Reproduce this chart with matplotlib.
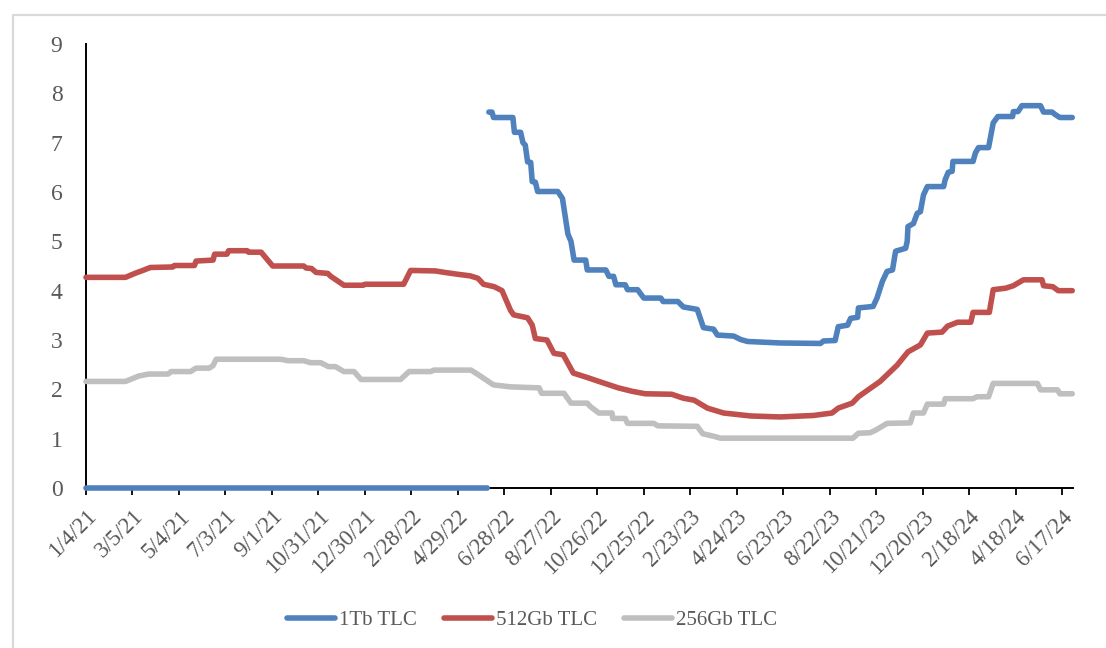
import matplotlib
matplotlib.use("Agg")
import matplotlib.pyplot as plt
from matplotlib.lines import Line2D
import numpy as np
import pandas as pd

# ---- data: NAND flash contract prices (USD) ----
tb1_dates = [
    "2021-01-04", "2022-06-06", "2022-06-07",
    "2022-06-08", "2022-06-12", "2022-06-14", "2022-07-09", "2022-07-11", "2022-07-19",
    "2022-07-22", "2022-07-25", "2022-07-28", "2022-08-01", "2022-08-03", "2022-08-07",
    "2022-08-10", "2022-09-05", "2022-09-11", "2022-09-18", "2022-09-22", "2022-09-26",
    "2022-10-11", "2022-10-13", "2022-11-06", "2022-11-10", "2022-11-16", "2022-11-19",
    "2022-12-01", "2022-12-04", "2022-12-17", "2022-12-25", "2023-01-16", "2023-01-19",
    "2023-02-07", "2023-02-14", "2023-03-04", "2023-03-12", "2023-03-25", "2023-03-30",
    "2023-04-20", "2023-04-29", "2023-05-08", "2023-06-19", "2023-08-10", "2023-08-14",
    "2023-08-29", "2023-09-02", "2023-09-14", "2023-09-18", "2023-09-27", "2023-09-28",
    "2023-10-17", "2023-10-22", "2023-10-29", "2023-11-04", "2023-11-11", "2023-11-15",
    "2023-11-28", "2023-11-30", "2023-12-01", "2023-12-08", "2023-12-13", "2023-12-17",
    "2023-12-21", "2023-12-26", "2024-01-16", "2024-01-18", "2024-01-22", "2024-01-27",
    "2024-01-28", "2024-02-23", "2024-02-26", "2024-03-01", "2024-03-14", "2024-03-20",
    "2024-03-26", "2024-04-14", "2024-04-15", "2024-04-21", "2024-04-26", "2024-05-20",
    "2024-05-24", "2024-06-04", "2024-06-08", "2024-06-14", "2024-06-30",
]
tb1_values = [
    0.0, 0.0, np.nan,
    7.62, 7.62, 7.51, 7.51, 7.21, 7.21,
    7.00, 6.95, 6.61, 6.60, 6.21, 6.20,
    6.01, 6.01, 5.87, 5.15, 5.00, 4.62,
    4.62, 4.42, 4.42, 4.29, 4.29, 4.12,
    4.12, 4.02, 4.02, 3.85, 3.85, 3.78,
    3.78, 3.67, 3.62, 3.25, 3.22, 3.10,
    3.08, 3.01, 2.97, 2.94, 2.93, 2.98,
    2.99, 3.27, 3.30, 3.44, 3.46, 3.65,
    3.68, 3.85, 4.19, 4.39, 4.42, 4.80,
    4.86, 5.00, 5.30, 5.36, 5.57, 5.60,
    5.94, 6.11, 6.11, 6.25, 6.40, 6.42,
    6.62, 6.62, 6.79, 6.90, 6.90, 7.40,
    7.53, 7.53, 7.63, 7.63, 7.75, 7.75,
    7.62, 7.62, 7.57, 7.51, 7.51,
]

gb512_dates = [
    "2021-01-04", "2021-02-24", "2021-03-08", "2021-03-20", "2021-03-28", "2021-04-26",
    "2021-04-28", "2021-05-24", "2021-05-26", "2021-06-17", "2021-06-19", "2021-07-05",
    "2021-07-07", "2021-07-31", "2021-08-02", "2021-08-18", "2021-09-02", "2021-10-12",
    "2021-10-15", "2021-10-22", "2021-10-28", "2021-11-12", "2021-11-16", "2021-12-03",
    "2021-12-28", "2021-12-30", "2022-02-18", "2022-02-27", "2022-03-31", "2022-04-12",
    "2022-04-30", "2022-05-15", "2022-05-25", "2022-06-01", "2022-06-15", "2022-06-25",
    "2022-07-06", "2022-07-10", "2022-07-28", "2022-08-03", "2022-08-07", "2022-08-22",
    "2022-08-31", "2022-09-12", "2022-09-25", "2022-10-13", "2022-10-28", "2022-11-22",
    "2022-12-10", "2022-12-27", "2023-01-30", "2023-02-14", "2023-02-28", "2023-03-17",
    "2023-04-07", "2023-05-12", "2023-06-19", "2023-08-01", "2023-08-25", "2023-09-02",
    "2023-09-20", "2023-09-28", "2023-10-26", "2023-11-17", "2023-12-01", "2023-12-17",
    "2023-12-26", "2024-01-14", "2024-01-21", "2024-02-03", "2024-02-20", "2024-02-23",
    "2024-03-15", "2024-03-20", "2024-04-05", "2024-04-15", "2024-04-28", "2024-05-22",
    "2024-05-24", "2024-06-05", "2024-06-12", "2024-06-30",
]
gb512_values = [
    4.27, 4.27, 4.35, 4.42, 4.47, 4.48,
    4.51, 4.51, 4.60, 4.62, 4.74, 4.74,
    4.81, 4.81, 4.78, 4.78, 4.50, 4.50,
    4.46, 4.45, 4.37, 4.35, 4.29, 4.11,
    4.11, 4.13, 4.13, 4.41, 4.40, 4.37,
    4.33, 4.30, 4.25, 4.13, 4.08, 4.00,
    3.60, 3.51, 3.45, 3.30, 3.03, 3.00,
    2.73, 2.70, 2.33, 2.24, 2.16, 2.03,
    1.96, 1.91, 1.90, 1.82, 1.78, 1.62,
    1.52, 1.46, 1.44, 1.47, 1.52, 1.62,
    1.72, 1.85, 2.16, 2.49, 2.76, 2.90,
    3.14, 3.16, 3.28, 3.36, 3.36, 3.56,
    3.56, 4.02, 4.05, 4.10, 4.22, 4.22,
    4.10, 4.08, 4.00, 4.00,
]

gb256_dates = [
    "2021-01-04", "2021-02-24", "2021-03-13", "2021-03-26", "2021-04-20", "2021-04-24",
    "2021-05-19", "2021-05-26", "2021-06-12", "2021-06-17", "2021-06-21", "2021-09-12",
    "2021-09-22", "2021-10-12", "2021-10-21", "2021-11-03", "2021-11-13", "2021-11-22",
    "2021-12-03", "2021-12-16", "2021-12-25", "2022-02-14", "2022-02-25", "2022-03-25",
    "2022-03-29", "2022-05-16", "2022-05-25", "2022-06-14", "2022-07-06", "2022-08-12",
    "2022-08-15", "2022-09-13", "2022-09-22", "2022-10-13", "2022-10-17", "2022-10-28",
    "2022-11-14", "2022-11-15", "2022-12-01", "2022-12-04", "2023-01-07", "2023-01-12",
    "2023-03-04", "2023-03-11", "2023-03-25", "2023-04-03", "2023-09-21", "2023-09-28",
    "2023-10-13", "2023-10-20", "2023-11-04", "2023-12-04", "2023-12-08", "2023-12-21",
    "2023-12-26", "2024-01-16", "2024-01-18", "2024-02-23", "2024-02-28", "2024-03-14",
    "2024-03-20", "2024-05-16", "2024-05-20", "2024-06-11", "2024-06-14", "2024-06-30",
]
gb256_values = [
    2.16, 2.16, 2.27, 2.31, 2.31, 2.36,
    2.36, 2.43, 2.43, 2.48, 2.61, 2.61,
    2.58, 2.58, 2.54, 2.54, 2.46, 2.46,
    2.36, 2.36, 2.20, 2.20, 2.36, 2.36,
    2.39, 2.39, 2.30, 2.09, 2.05, 2.03,
    1.92, 1.92, 1.72, 1.72, 1.65, 1.52,
    1.52, 1.41, 1.41, 1.31, 1.31, 1.26,
    1.25, 1.10, 1.05, 1.01, 1.01, 1.11,
    1.12, 1.17, 1.31, 1.32, 1.52, 1.52,
    1.70, 1.70, 1.81, 1.81, 1.85, 1.85,
    2.12, 2.12, 1.99, 1.99, 1.91, 1.91,
]

series_names = ["1Tb TLC", "512Gb TLC", "256Gb TLC"]
series_colors = ["#4F81BD", "#C0504D", "#BFBFBF"]

axis_start = "2021-01-04"
axis_end = "2024-07-01"
tick_step_days = 60
y_ticks = list(range(0, 10))

# ---- figure ----
TEXT = "#595959"
FONT = ["Liberation Serif", "DejaVu Serif"]
plt.rcParams["font.family"] = FONT

fig = plt.figure(figsize=(11.06, 6.48), dpi=100)
ax = fig.add_axes([86 / 1106, 1 - 488 / 648, (1073 - 86) / 1106, (488 - 44) / 648])

series = [
    (tb1_dates, tb1_values),
    (gb512_dates, gb512_values),
    (gb256_dates, gb256_values),
]
for (d, v), name, col in zip(series, series_names, series_colors):
    ax.plot(pd.to_datetime(d), v, color=col, lw=4.0, label=name,
            solid_capstyle="round", solid_joinstyle="round", zorder=3,
            clip_on=False)

start = pd.Timestamp(axis_start)
end = pd.Timestamp(axis_end)
ax.set_xlim(start, end)
ax.set_ylim(0, 9)

ticks = pd.date_range(start, end, freq=f"{tick_step_days}D")
ax.set_xticks(ticks)
ax.set_xticklabels([f"{t.month}/{t.day}/{t.year % 100}" for t in ticks],
                   rotation=45, ha="right", va="top", rotation_mode="anchor",
                   fontsize=16.5, color=TEXT)
ax.set_yticks(y_ticks)
ax.set_yticklabels([str(t) for t in y_ticks], fontsize=17, color=TEXT)

ax.tick_params(axis="x", direction="out", length=5, width=1.3, color="black", pad=8)
ax.tick_params(axis="y", length=0, pad=17)

for s in ("top", "right"):
    ax.spines[s].set_visible(False)
for s in ("left", "bottom"):
    ax.spines[s].set_color("black")
    ax.spines[s].set_linewidth(1.4)

# chart-area border
bx = 13 / 1106
by = 1 - 15 / 648
fig.add_artist(Line2D([bx, bx, 1.01], [-0.01, by, by], transform=fig.transFigure,
                      color="#D9D9D9", lw=1.6))

leg = fig.legend(loc="center", bbox_to_anchor=(532 / 1106, 1 - 620 / 648), ncol=3,
                 frameon=False, fontsize=15, handlelength=2.3, handletextpad=0.2,
                 columnspacing=1.3)
for t in leg.get_texts():
    t.set_color(TEXT)
for h in leg.get_lines():
    h.set_solid_capstyle("round")
    h.set_linewidth(4.0)

fig.savefig("out.png", dpi=100)
